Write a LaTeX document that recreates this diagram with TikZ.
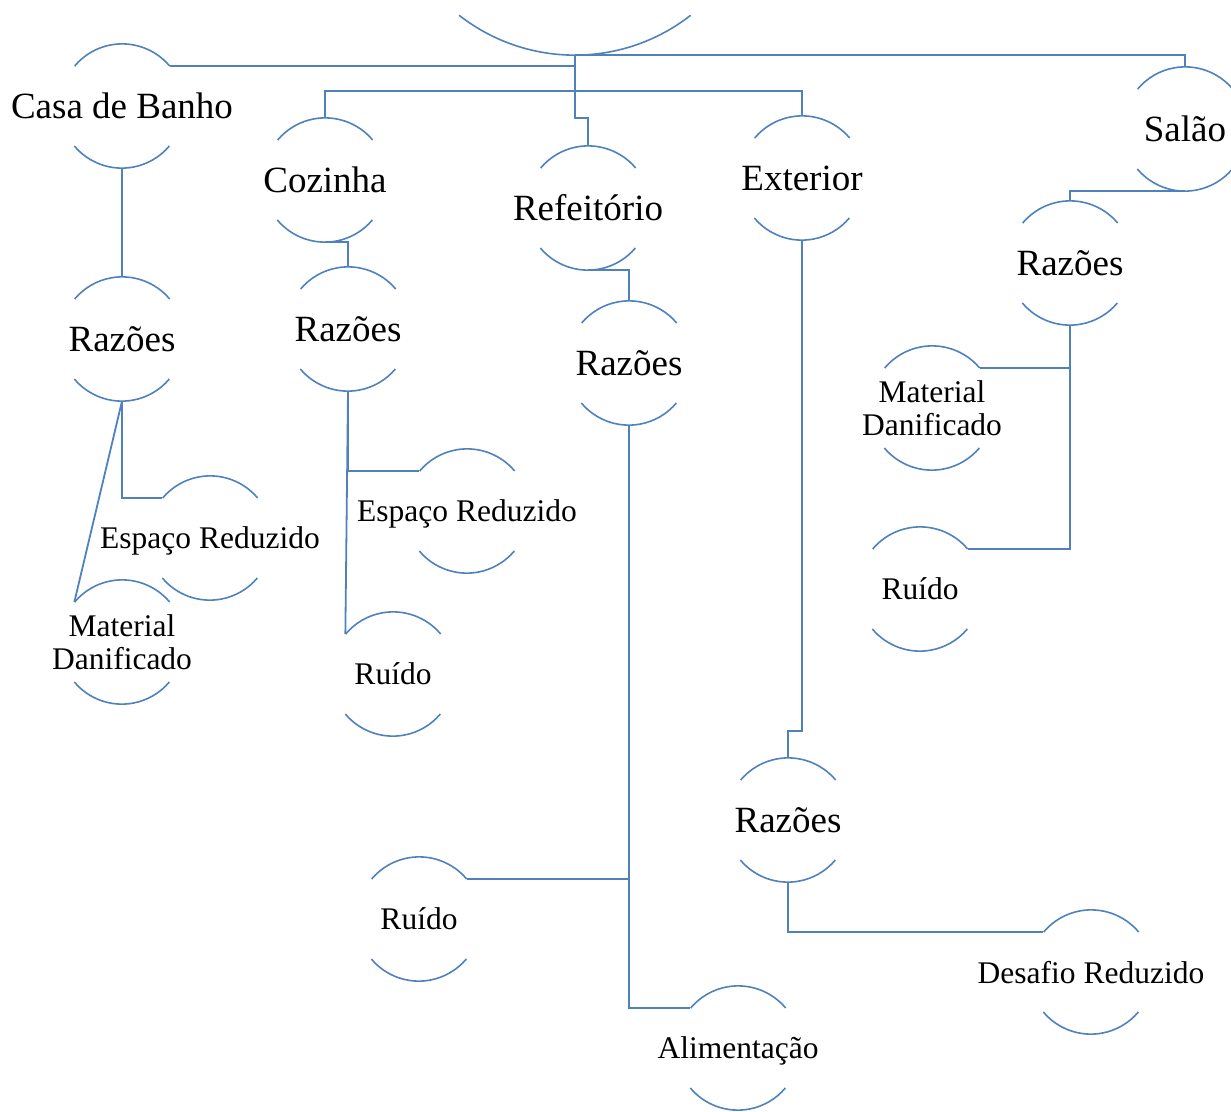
\documentclass[tikz,border=0pt]{standalone}
\usepackage{fontspec}
\setmainfont{Liberation Serif}
\usetikzlibrary{calc}
\definecolor{lblue}{RGB}{79,129,189}
\tikzset{
  cnode/.style={circle, minimum size=124pt, inner sep=0pt},
  bigtxt/.style={font=\fontsize{37}{44}\selectfont, text=black, inner sep=0pt, align=center},
  smalltxt/.style={font=\fontsize{31.5}{33}\selectfont, text=black, inner sep=0pt, align=center},
  smallone/.style={smalltxt, text depth=0pt},
  link/.style={draw=lblue, line width=1.8pt},
  rim/.style={draw=lblue, line width=1.6pt}
}
\begin{document}
\begin{tikzpicture}[x=1pt,y=1pt]
\useasboundingbox (0,0) rectangle (1231,-1111);
% root
\node[circle, minimum size=376pt, inner sep=0pt] (root) at (575,133) {};
\draw[rim] (root.232) arc[start angle=232, end angle=308, radius=188pt];
% level 1
\node[cnode, label={[bigtxt]center:Casa de Banho}] (casa) at (122,-106) {};
\node[cnode, label={[bigtxt]center:Salão}] (salao) at (1185,-129) {};
\node[cnode, label={[bigtxt]center:Cozinha}] (coz) at (325,-180) {};
\node[cnode, label={[bigtxt]center:Refeitório}] (ref) at (588,-208) {};
\node[cnode, label={[bigtxt]center:Exterior}] (ext) at (802,-178) {};
% Razões
\node[cnode, label={[bigtxt]center:Razões}] (rc) at (122,-339) {};
\node[cnode, label={[bigtxt]center:Razões}] (rz) at (348,-329) {};
\node[cnode, label={[bigtxt]center:Razões}] (rr) at (629,-363) {};
\node[cnode, label={[bigtxt]center:Razões}] (rs) at (1070,-263) {};
\node[cnode, label={[bigtxt]center:Razões}] (re) at (788,-820) {};
% leaves
\node[cnode, label={[smallone]center:Espaço Reduzido}] (ec) at (210,-538) {};
\node[cnode, label={[smalltxt]center:Material\\Danificado}] (mc) at (122,-642) {};
\node[cnode, label={[smallone]center:Espaço Reduzido}] (ez) at (467,-511) {};
\node[cnode, label={[smallone]center:Ruído}] (uz) at (393,-674) {};
\node[cnode, label={[smallone]center:Ruído}] (ur) at (419,-919) {};
\node[cnode, label={[smallone]center:Alimentação}] (al) at (738,-1048) {};
\node[cnode, label={[smallone]center:Desafio Reduzido}] (de) at (1091,-972) {};
\node[cnode, label={[smalltxt]center:Material\\Danificado}] (ms) at (932,-408) {};
\node[cnode, label={[smallone]center:Ruído}] (us) at (920,-589) {};
% arcs
\foreach \n in {casa,salao,coz,ref,ext,rc,rz,rr,rs,re,ec,mc,ez,uz,ur,al,de,ms,us}{
  \draw[rim] (\n.40) arc[start angle=40, end angle=140, radius=62pt];
  \draw[rim] (\n.220) arc[start angle=220, end angle=320, radius=62pt];
}
% connectors
\draw[link] (root.south) -| (salao.north);
\draw[link] (casa.40) -- (casa.40 -| root.south);
\draw[link] (root.south) |- ($(ref.north)+(0,28)$) -- (ref.north);
\draw[link] (coz.north) -- ++(0,27) -| (ext.north);
\draw[link] (casa.south) -- (rc.north);
\draw[link] (rc.south) |- (ec.140);
\draw[link] (rc.south) -- (mc.140);
\draw[link] (coz.south) -| (rz.north);
\draw[link] (rz.south) |- (ez.140);
\draw[link] (rz.south) -- (uz.140);
\draw[link] (ref.south) -| (rr.north);
\draw[link] (rr.south) |- (al.140);
\draw[link] (ur.40) -- (ur.40 -| rr.south);
\draw[link] (ext.south) -- ($(re.north)+(14,27)$) -- ($(re.north)+(0,27)$) -- (re.north);
\draw[link] (re.south) |- (de.140);
\draw[link] (salao.south) -| (rs.north);
\draw[link] (rs.south) |- (us.40);
\draw[link] (ms.40) -- (ms.40 -| rs.south);
\end{tikzpicture}
\end{document}
